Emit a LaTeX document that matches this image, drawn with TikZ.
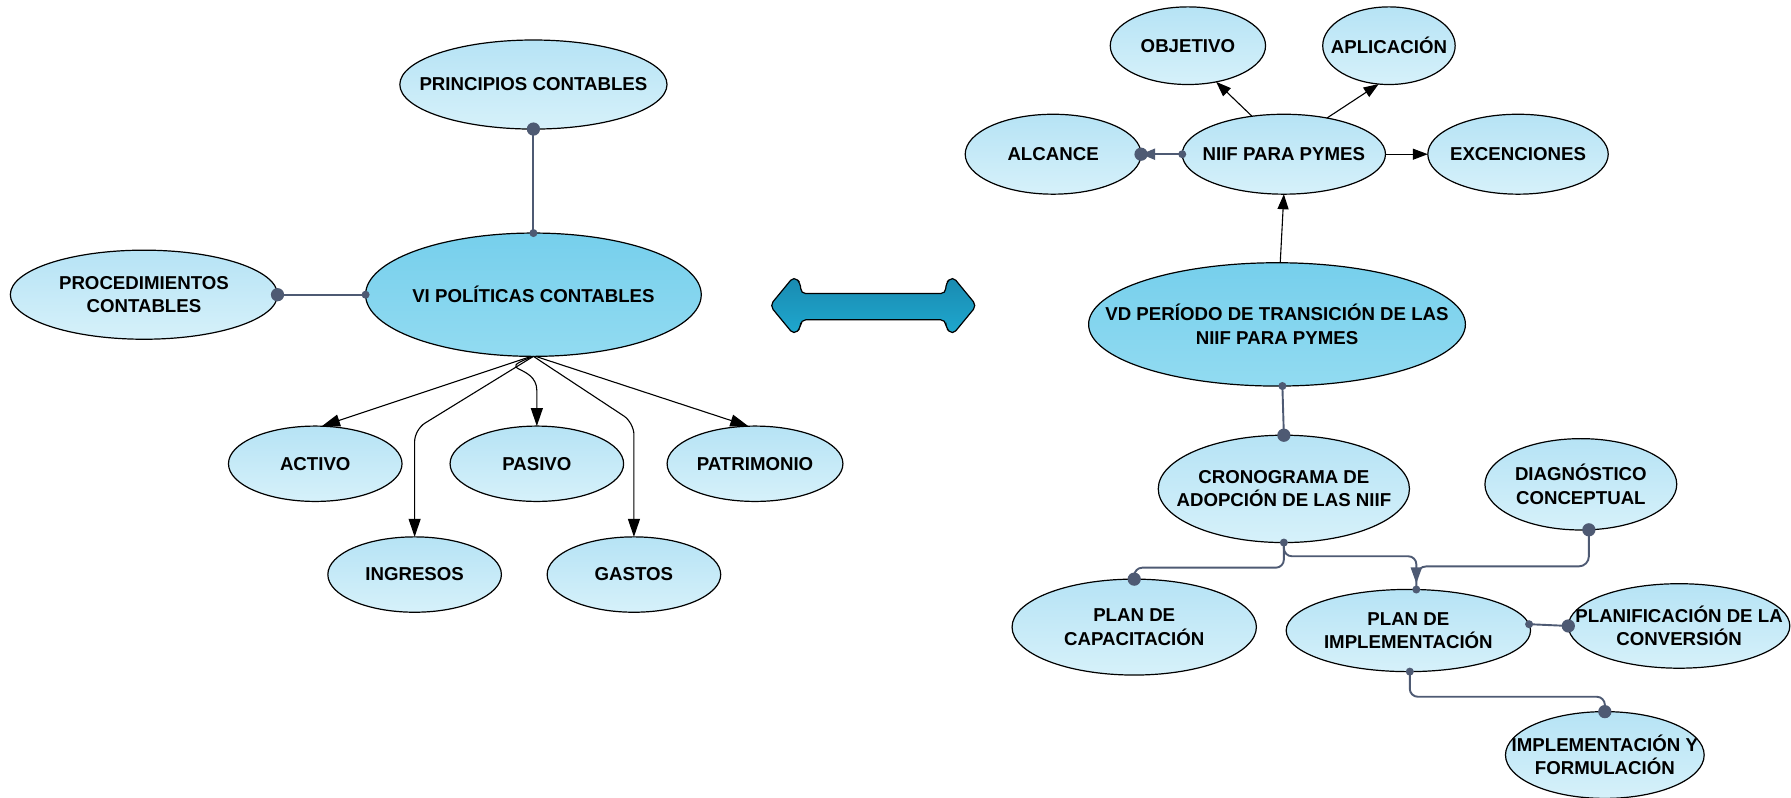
\documentclass[tikz,border=0pt]{standalone}
\usepackage{fontspec}
\setmainfont{Liberation Sans}
\usetikzlibrary{shapes.geometric,arrows.meta}

\definecolor{linkgray}{RGB}{78,90,115}
\definecolor{bubbletop}{RGB}{182,227,245}
\definecolor{bubblebot}{RGB}{214,241,250}
\definecolor{coretop}{RGB}{118,207,236}
\definecolor{corebot}{RGB}{146,219,241}
\definecolor{bartop}{RGB}{25,138,176}
\definecolor{barbot}{RGB}{31,168,207}

\begin{document}
\begin{tikzpicture}[x=0.02cm,y=-0.02cm,
  bubble/.style={ellipse, draw=black, line width=0.6pt,
    top color=bubbletop, bottom color=bubblebot,
    inner xsep=-4cm, inner ysep=-2cm, outer sep=0pt, align=center,
    font=\fontsize{9.3}{11.6}\selectfont\bfseries},
  core/.style={bubble, top color=coretop, bottom color=corebot},
  sz/.style 2 args={minimum width=0.04cm*#1, minimum height=0.04cm*#2},
  arr/.style={draw=black, line width=0.55pt, -{Triangle[length=9pt,width=6pt]}},
  arrs/.style={draw=black, line width=0.55pt, -{Triangle[length=7.5pt,width=5.5pt]}},
  link/.style={draw=linkgray, line width=0.95pt},
  linkarr/.style={link, -{Triangle[length=8pt,width=5.5pt,fill=linkgray]}},
  bigdot/.style={fill=linkgray},
]
\useasboundingbox (0,0) rectangle (1568,698);

% ---- left map: accounting policies ----
\node[bubble, sz={117}{39}] (prin) at (467,74) {PRINCIPIOS CONTABLES};
\node[bubble, sz={117}{39}] (proc) at (126,258) {PROCEDIMIENTOS\\CONTABLES};
\node[core, sz={147}{54}] (vi) at (467,258) {VI POLÍTICAS CONTABLES};
\node[bubble, sz={76}{33}] (activo) at (276,406) {ACTIVO};
\node[bubble, sz={76}{33}] (pasivo) at (470,406) {PASIVO};
\node[bubble, sz={77}{33}] (patri) at (661,406) {PATRIMONIO};
\node[bubble, sz={76}{33}] (ingr) at (363,503) {INGRESOS};
\node[bubble, sz={76}{33}] (gastos) at (555,503) {GASTOS};

\draw[link] (prin.south) -- (vi.north);
\fill[bigdot] (prin.south) circle[radius=3.3pt];
\fill[bigdot] (vi.north) circle[radius=2pt];
\draw[link] (proc.east) -- (vi.west);
\fill[bigdot] (proc.east) circle[radius=3.3pt];
\fill[bigdot] (vi.west) circle[radius=2pt];

\draw[arr] (vi.268) -- (activo.80);
\draw[arr] (vi.south) .. controls (430,326) and (470,318) .. (470,342) -- (pasivo.north);
\draw[arr, rounded corners=6pt] (vi.south) -- (363,376) -- (ingr.north);
\draw[arr, rounded corners=6pt] (vi.south) -- (555,370) -- (gastos.north);
\draw[arr] (vi.272) -- (patri.100);

% ---- double-headed link between the two maps ----
\draw[black, line width=0.6pt, top color=bartop, bottom color=barbot, rounded corners=2.5pt]
  (674,267.5) -- (695,242) -- (701,248) -- (701,257) -- (828,257) -- (828,248)
  -- (834,242) -- (855,267.5) -- (834,293) -- (828,287) -- (828,280)
  -- (701,280) -- (701,287) -- (695,293) -- cycle;

% ---- right map: transition to IFRS for SMEs ----
\node[bubble, sz={68}{34}] (objetivo) at (1040,40) {OBJETIVO};
\node[bubble, sz={58}{34}] (aplic) at (1216,40) {APLICACIÓN};
\node[bubble, sz={77}{35}] (alcance) at (922,135) {ALCANCE};
\node[bubble, sz={89}{35}] (niif) at (1124,135) {NIIF PARA PYMES};
\node[bubble, sz={79}{35}] (excen) at (1329,135) {EXCENCIONES};
\node[core, sz={165}{54}] (vd) at (1118,284) {VD PERÍODO DE TRANSICIÓN DE LAS\\NIIF PARA PYMES};
\node[bubble, sz={110}{47}] (crono) at (1124,428) {CRONOGRAMA DE\\ADOPCIÓN DE LAS NIIF};
\node[bubble, sz={84}{40}] (diag) at (1384,424) {DIAGNÓSTICO\\CONCEPTUAL};
\node[bubble, sz={107}{42}] (capac) at (993,549) {PLAN DE\\CAPACITACIÓN};
\node[bubble, sz={107}{36}] (pimpl) at (1233,552) {PLAN DE\\IMPLEMENTACIÓN};
\node[bubble, sz={97}{37}] (planif) at (1470,548) {PLANIFICACIÓN DE LA\\CONVERSIÓN};
\node[bubble, sz={87}{38}] (implf) at (1405,661) {IMPLEMENTACIÓN Y\\FORMULACIÓN};

\draw[arrs] (vd.87) -- (niif.south);
\draw[arrs] (niif.130) -- (objetivo.-52);
\draw[arrs] (niif.40) -- (aplic.-105);
\draw[arrs] (niif.east) -- (excen.west);
\draw[link, -{Triangle[length=7pt,width=5.5pt,fill=linkgray]}] (niif.west) -- (alcance.east);
\fill[bigdot] (niif.west) circle[radius=2pt];
\fill[bigdot] (alcance.east) circle[radius=3.3pt];

\draw[link] (vd.-85) -- (crono.north);
\fill[bigdot] (vd.-85) circle[radius=2pt];
\fill[bigdot] (crono.north) circle[radius=3.3pt];

\draw[link, rounded corners=4pt] (crono.south) -- ++(0,22) -| (capac.north);
\draw[linkarr, rounded corners=4pt, shorten >=3pt] (crono.south) -- ++(0,12) -| (pimpl.79);
\fill[bigdot] (crono.south) circle[radius=2pt];
\fill[bigdot] (capac.north) circle[radius=3.3pt];

\draw[link, rounded corners=5pt] (diag.-80) -- ++(0,32) -| (pimpl.79);
\fill[bigdot] (diag.-80) circle[radius=3.3pt];
\fill[bigdot] (pimpl.79) circle[radius=2pt];

\draw[link] (pimpl.3) -- (planif.west);
\fill[bigdot] (pimpl.3) circle[radius=2pt];
\fill[bigdot] (planif.west) circle[radius=3.3pt];

\draw[link, rounded corners=4pt] (pimpl.-88) -- ++(0,22) -| (implf.north);
\fill[bigdot] (pimpl.-88) circle[radius=2pt];
\fill[bigdot] (implf.north) circle[radius=3.3pt];
\end{tikzpicture}
\end{document}
